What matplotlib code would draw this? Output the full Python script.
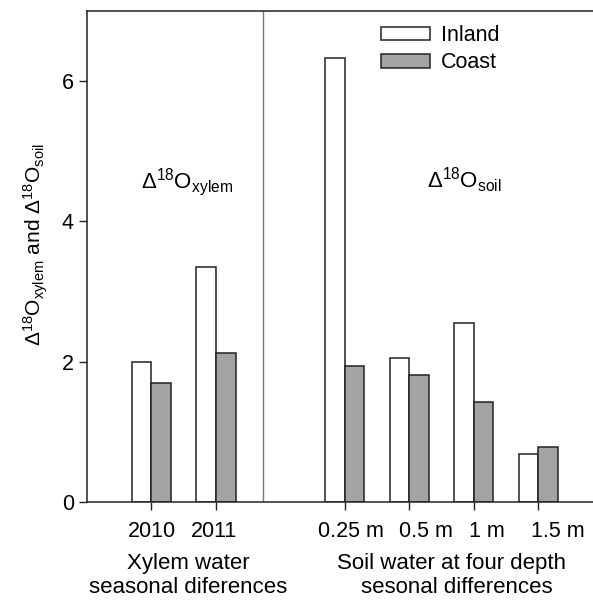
import numpy as np
import matplotlib
matplotlib.use("Agg")
from matplotlib import pyplot as plt
from matplotlib.transforms import ScaledTranslation

plt.rcParams['font.family'] = ['Liberation Sans', 'DejaVu Sans']
plt.rcParams['mathtext.fontset'] = 'custom'
plt.rcParams['mathtext.rm'] = 'Liberation Sans'
plt.rcParams['mathtext.it'] = 'Liberation Sans'
plt.rcParams['mathtext.default'] = 'regular'

# data
xylem_labels = ['2010', '2011']
soil_labels = ['0.25 m', '0.5 m', '1 m', '1.5 m']
inland_xylem = [1.99, 3.35]
coast_xylem = [1.69, 2.12]
inland_soil = [6.32, 2.05, 2.55, 0.69]
coast_soil = [1.93, 1.81, 1.43, 0.79]

labels = xylem_labels + soil_labels
inland = inland_xylem + inland_soil
coast = coast_xylem + coast_soil
x = np.array([1, 2, 4, 5, 6, 7], dtype=float)
w = 0.305
# the depth labels sit a little right of their ticks in the original (pixels)
label_shift = [0, -1.5, 6, 17, 13, 20]

fig = plt.figure(figsize=(5.93, 6.0), dpi=100)
ax = fig.add_axes([87/593, 98/600, 1 - 87/593, 491.5/600])

ax.bar(x - w/2, inland, w, color='white', edgecolor='#222222', linewidth=1.1, label='Inland')
ax.bar(x + w/2, coast, w, color='#a3a3a3', edgecolor='#222222', linewidth=1.1, label='Coast')
ax.axvline(2.73, color='#777777', linewidth=1.0)

ax.set_xlim(0, 7.85)
ax.set_ylim(0, 7)
ax.set_xticks(x)
ax.set_xticklabels(labels, fontsize=15.5)
ax.set_yticks([0, 2, 4, 6])
ax.tick_params(axis='both', labelsize=15.5, length=6, width=1.0, color='#222222', direction='out')
ax.tick_params(axis='x', pad=8)
for lab, dx in zip(ax.get_xticklabels(), label_shift):
    lab.set_transform(lab.get_transform() + ScaledTranslation(dx / 100, 0, fig.dpi_scale_trans))
for s in ['left', 'top', 'bottom']:
    ax.spines[s].set_linewidth(1.1)
    ax.spines[s].set_color('#222222')
ax.spines['right'].set_visible(False)

ax.set_ylabel(r'$\Delta^{18}O_{xylem}$ and $\Delta^{18}O_{soil}$', fontsize=15)
ax.yaxis.set_label_coords(-0.073, (502 - 245) / 491.5)

ax.text(1.55, 4.47, r'$\Delta^{18}O_{xylem}$', fontsize=16, ha='center', va='baseline')
ax.text(5.86, 4.48, r'$\Delta^{18}O_{soil}$', fontsize=16, ha='center', va='baseline')

ax.text(1.57, -0.95, 'Xylem water', fontsize=16, ha='center', va='baseline')
ax.text(1.57, -1.29, 'seasonal diferences', fontsize=16, ha='center', va='baseline')
ax.text(5.65, -0.95, 'Soil water at four depth', fontsize=16, ha='center', va='baseline')
ax.text(5.74, -1.29, 'sesonal differences', fontsize=16, ha='center', va='baseline')

ax.legend(loc='upper left', bbox_to_anchor=(0.542, 1.01), frameon=False, fontsize=15.5,
          handlelength=2.3, handleheight=0.6, labelspacing=0.3, handletextpad=0.5)

fig.savefig('out.png', dpi=100)
